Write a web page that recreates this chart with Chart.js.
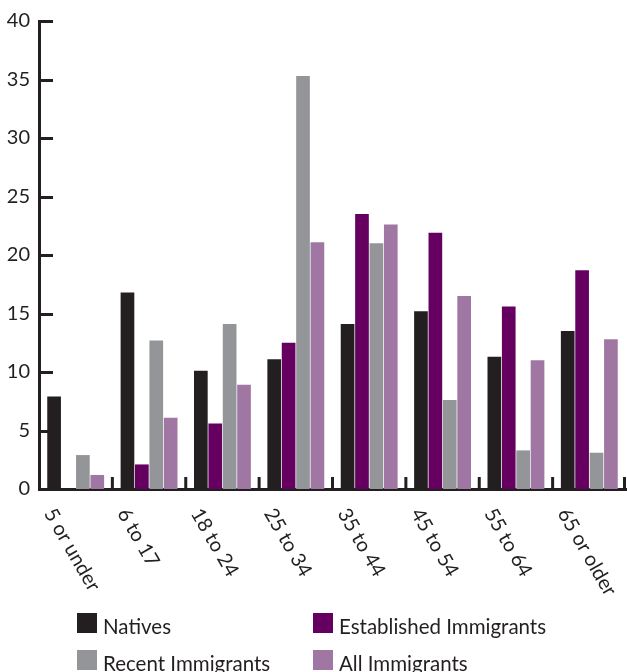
<!DOCTYPE html>
<html>
<head>
<meta charset="utf-8">
<script src="https://cdn.jsdelivr.net/npm/chart.js@4"></script>
<style>
  body { margin: 0; background: #fff; }
  canvas { display: block; }
</style>
</head>
<body>
<canvas id="chart" width="627" height="672"></canvas>
<script>
// age groups and share of each population (%)
const ageGroups = ['5 or under', '6 to 17', '18 to 24', '25 to 34', '35 to 44', '45 to 54', '55 to 64', '65 or older'];
const natives = [7.9, 16.8, 10.1, 11.1, 14.1, 15.2, 11.3, 13.5];
const established = [null, 2.1, 5.6, 12.5, 23.5, 21.9, 15.6, 18.7];
const recent = [2.9, 12.7, 14.1, 35.3, 21.0, 7.6, 3.3, 3.1];
const allImmigrants = [1.2, 6.1, 8.9, 21.1, 22.6, 16.5, 11.0, 12.8];

const ink = '#231f20';
const fontFamily = 'Lato, "DejaVu Sans", sans-serif';

// inside tick marks on both axes
const axisTicks = {
  id: 'axisTicks',
  afterDraw(chart) {
    const { ctx, chartArea, scales } = chart;
    ctx.save();
    ctx.strokeStyle = ink;
    ctx.lineWidth = 3;
    ctx.beginPath();
    scales.y.ticks.forEach(t => {
      if (t.value === 0) return;
      const y = Math.round(scales.y.getPixelForValue(t.value)) + 0.5;
      ctx.moveTo(chartArea.left, y);
      ctx.lineTo(chartArea.left + 14, y);
    });
    for (let i = 1; i <= ageGroups.length; i++) {
      const x = Math.min(scales.x.getPixelForValue(i - 0.5), chartArea.right - 1.5);
      ctx.moveTo(x, chartArea.bottom);
      ctx.lineTo(x, chartArea.bottom - 12);
    }
    ctx.stroke();
    ctx.restore();
  }
};

// category labels rotated clockwise, reading down to the right
const slantedLabels = {
  id: 'slantedLabels',
  afterDraw(chart) {
    const { ctx, chartArea, scales } = chart;
    ctx.save();
    ctx.fillStyle = ink;
    ctx.font = '20px ' + fontFamily;
    ctx.textAlign = 'left';
    ctx.textBaseline = 'top';
    ageGroups.forEach((label, i) => {
      const cx = scales.x.getPixelForValue(i);
      ctx.save();
      ctx.translate(cx - 18, chartArea.bottom + 16);
      ctx.rotate(Math.PI / 3);
      ctx.fillText(label, 0, 0);
      ctx.restore();
    });
    ctx.restore();
  }
};

// two-column legend under the labels
const gridLegend = {
  id: 'gridLegend',
  afterDraw(chart) {
    const { ctx } = chart;
    const cols = [77, 313];
    const rows = [613, 650];
    ctx.save();
    ctx.font = '20.5px ' + fontFamily;
    ctx.textBaseline = 'alphabetic';
    chart.data.datasets.forEach((ds, i) => {
      const x = cols[i % 2];
      const y = rows[Math.floor(i / 2)];
      ctx.fillStyle = ds.backgroundColor;
      ctx.fillRect(x, y, 20, 20);
      ctx.fillStyle = ink;
      ctx.fillText(ds.label, x + 26, y + 21);
    });
    ctx.restore();
  }
};

new Chart(document.getElementById('chart'), {
  type: 'bar',
  data: {
    labels: ageGroups,
    datasets: [
      { label: 'Natives', data: natives, backgroundColor: '#231f20' },
      { label: 'Established Immigrants', data: established, backgroundColor: '#660060' },
      { label: 'Recent Immigrants', data: recent, backgroundColor: '#939598' },
      { label: 'All Immigrants', data: allImmigrants, backgroundColor: '#a077a2' },
    ],
  },
  options: {
    responsive: false,
    animation: false,
    layout: { padding: { top: 20, right: 1, left: 0, bottom: 0 } },
    datasets: {
      bar: { categoryPercentage: 0.785, barPercentage: 0.95, borderWidth: 0 },
    },
    plugins: {
      legend: { display: false },
      tooltip: { enabled: false },
    },
    scales: {
      x: {
        offset: true,
        grid: { display: false, drawTicks: false },
        ticks: { display: false },
        border: { display: true, color: ink, width: 3 },
        afterFit: s => { s.height = 183; },
      },
      y: {
        min: 0,
        max: 40,
        ticks: { stepSize: 5, color: ink, padding: 9, font: { family: fontFamily, size: 20 } },
        grid: { display: false, drawTicks: false },
        border: { display: true, color: ink, width: 3 },
        afterFit: s => { s.width = 39; },
      },
    },
  },
  plugins: [axisTicks, slantedLabels, gridLegend],
});
</script>
</body>
</html>
